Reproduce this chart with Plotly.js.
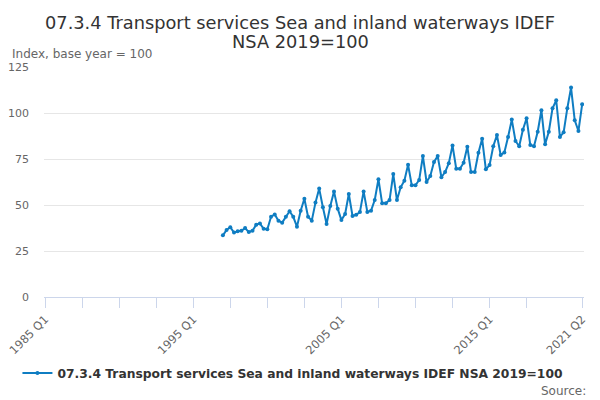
<!DOCTYPE html>
<html>
<head>
<meta charset="utf-8">
<script src="https://cdn.plot.ly/plotly-3.0.1.min.js"></script>
<style>html,body{margin:0;padding:0;background:#fff;}#chart{width:600px;height:400px;}</style>
</head>
<body>
<div id="chart"></div>
<script>
// Quarterly categories 1985 Q1 .. 2021 Q2
var startYear = 1985, endYear = 2021, endQuarter = 2;
var categories = [];
for (var y = startYear; y <= endYear; y++) {
  for (var q = 1; q <= 4; q++) {
    if (y === endYear && q > endQuarter) break;
    categories.push(y + " Q" + q);
  }
}
var seriesStart = "1997 Q1";
// Index values, 1997 Q1 .. 2021 Q2
var values = [
  33.5, 36.4, 37.9, 35.0,
  35.7, 36.0, 37.5, 35.3,
  36.0, 39.3, 40.0, 37.1,
  36.8, 43.6, 44.9, 41.5,
  40.4, 43.6, 46.6, 43.6,
  38.2, 46.9, 53.4, 43.6,
  41.5, 51.3, 58.9, 48.8,
  39.7, 49.5, 57.4, 48.0,
  41.8, 45.1, 56.0, 44.0,
  44.7, 46.2, 57.4, 46.2,
  46.9, 52.7, 64.0, 50.9,
  50.9, 52.7, 66.8, 52.7,
  59.6, 63.2, 71.9, 60.7,
  60.7, 63.6, 76.6, 62.5,
  65.8, 73.4, 76.6, 65.1,
  67.9, 72.7, 82.4, 69.7,
  69.7, 73.0, 81.7, 67.9,
  67.9, 78.4, 86.0, 69.4,
  71.7, 81.9, 88.0, 77.2,
  78.6, 87.0, 96.4, 84.8,
  81.9, 90.9, 97.1, 82.6,
  81.9, 89.8, 101.5, 83.0,
  89.8, 102.6, 106.9, 87.0,
  89.5, 102.6, 113.8, 96.0,
  90.2, 104.7
];
var tickLabels = ["1985 Q1", "1995 Q1", "2005 Q1", "2015 Q1", "2021 Q2"];
var seriesName = "07.3.4 Transport services Sea and inland waterways IDEF NSA 2019=100";
var titleLines = ["07.3.4 Transport services Sea and inland waterways IDEF", "NSA 2019=100"];
var yTitle = "Index, base year = 100";
var sourceText = "Source:";

var startIdx = categories.indexOf(seriesStart);
var xs = values.map(function (v, i) { return startIdx + i; });

// tick marks every 10 quarters plus the last category; labels only at named ones
var tickvals = [], ticktext = [];
for (var t = 0; t < categories.length - 10; t += 10) {
  tickvals.push(t);
  ticktext.push(tickLabels.indexOf(categories[t]) >= 0 ? categories[t] : "");
}
tickvals.push(categories.length - 1);
ticktext.push(categories[categories.length - 1]);

var font = "DejaVu Sans, sans-serif";
var trace = {
  x: xs, y: values, type: "scatter", mode: "lines+markers",
  name: seriesName,
  line: {color: "#0f7dc2", width: 2},
  marker: {color: "#0f7dc2", size: 4},
  text: xs.map(function (i) { return categories[i]; }),
  hovertemplate: "%{text}: %{y}<extra></extra>"
};
var titleFont = {family: font, size: 17.8, color: "#333333"};
var layout = {
  width: 600, height: 400,
  margin: {l: 44, r: 16, t: 67, b: 103},
  paper_bgcolor: "#ffffff", plot_bgcolor: "#ffffff",
  font: {family: font, color: "#666666", size: 11},
  xaxis: {
    range: [-0.3, 145.5], tickmode: "array", tickvals: tickvals, ticktext: ticktext,
    tickangle: -45, ticks: "outside", ticklen: 10, tickcolor: "#ccd6eb", tickwidth: 1,
    showline: true, linecolor: "#ccd6eb", linewidth: 1, showgrid: false, zeroline: false,
    tickfont: {family: font, size: 11.5, color: "#666666"}
  },
  yaxis: {
    range: [0, 125], tickvals: [0, 25, 50, 75, 100, 125],
    showgrid: true, gridcolor: "#e6e6e6", gridwidth: 1, zeroline: false, showline: false,
    ticks: "", ticklabelstandoff: 14,
    tickfont: {family: font, size: 11, color: "#666666"}
  },
  showlegend: true,
  legend: {orientation: "h", x: 0.461, xanchor: "center", y: -0.33, yanchor: "middle",
           font: {family: font, size: 12.3, color: "#333333", weight: "bold"}},
  annotations: [
    {text: titleLines[0], xref: "paper", yref: "paper", x: (300 - 44) / 540, xanchor: "center",
     y: (297 - 22) / 230, yanchor: "middle", showarrow: false, font: titleFont},
    {text: titleLines[1], xref: "paper", yref: "paper", x: (300 - 44) / 540, xanchor: "center",
     y: (297 - 41) / 230, yanchor: "middle", showarrow: false, font: titleFont},
    {text: yTitle, xref: "paper", yref: "paper", x: -0.063, xanchor: "left",
     y: 1.096, yanchor: "top", showarrow: false,
     font: {family: font, size: 12, color: "#666666"}},
    {text: sourceText, xref: "paper", yref: "paper", x: 1.007, xanchor: "right",
     y: -0.41, yanchor: "middle", showarrow: false,
     font: {family: font, size: 12, color: "#666666"}}
  ]
};
Plotly.newPlot("chart", [trace], layout, {displayModeBar: false, staticPlot: true});
</script>
</body>
</html>
